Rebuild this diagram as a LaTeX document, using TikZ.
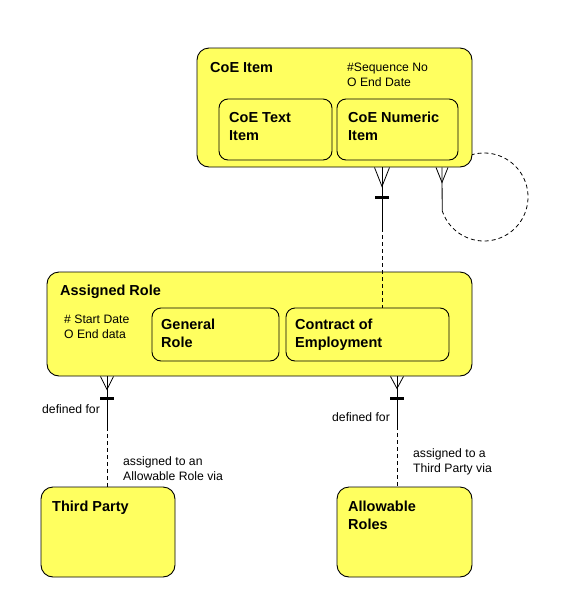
\documentclass[tikz,border=0pt]{standalone}
\usepackage{fontspec}
\setmainfont{Liberation Sans}
\usetikzlibrary{calc}
\definecolor{entyellow}{RGB}{255,255,95}
\begin{document}
\begin{tikzpicture}[x=1pt,y=-1pt,
  ent/.style={draw=black, line width=0.9pt, fill=entyellow, rounded corners=12pt, inner sep=0pt},
  sub/.style={draw=black, line width=0.9pt, fill=entyellow, rounded corners=9pt, inner sep=0pt},
  ttl/.style={anchor=base west, inner sep=0pt, font=\fontsize{14.5}{18}\selectfont\bfseries, align=left},
  att/.style={anchor=base west, inner sep=0pt, font=\fontsize{12.2}{15}\selectfont, align=left},
  rel/.style={line width=0.8pt},
  dsh/.style={line width=0.8pt, dash pattern=on 4pt off 3pt},
  barmark/.style={line width=2.6pt}]
\useasboundingbox (0,0) rectangle (565,603);

% entities
\node[ent, minimum width=275pt, minimum height=119pt] (coe) at (334.5,107.5) {};
\node[sub, minimum width=113pt, minimum height=61pt] (coetext) at (275.5,129.5) {};
\node[sub, minimum width=121pt, minimum height=61pt] (coenum) at (397.5,129.5) {};
\node[ent, minimum width=425pt, minimum height=104pt] (role) at (259.5,324) {};
\node[sub, minimum width=127pt, minimum height=53pt] (general) at (215.5,334.5) {};
\node[sub, minimum width=163pt, minimum height=53pt] (contract) at (367.5,334.5) {};
\node[ent, minimum width=134pt, minimum height=90pt] (third) at (108,532) {};
\node[ent, minimum width=135pt, minimum height=90pt] (allow) at (404.5,532) {};

% texts (multi-line texts are placed by the baseline of their last line)
\node[ttl] (t1) at (210,72) {CoE Item};
\node[att] (t2) at (347,86) {\#Sequence No\\O End Date};
\node[ttl] (t3) at (229,140) {CoE Text\\Item};
\node[ttl] (t4) at (348,140) {CoE Numeric\\Item};
\node[ttl] (t5) at (60,295) {Assigned Role};
\node[att] (t6) at (64,338) {\# Start Date\\O End data};
\node[ttl] (t7) at (161,347) {General\\Role};
\node[ttl] (t8) at (295,347) {Contract of\\Employment};
\node[ttl] (t9) at (52,511) {Third Party};
\node[ttl] (t10) at (348,529) {Allowable\\Roles};
\node[att] (l1) at (42,413) {defined for};
\node[att] (l2) at (332,421) {defined for};
\node[att] (l3) at (123,480) {assigned to an\\Allowable Role via};
\node[att] (l4) at (413,472) {assigned to a\\Third Party via};

% x positions of the connectors
\coordinate (xa) at (382,0);
\coordinate (xb) at (107,0);
\coordinate (xc) at (397,0);
\coordinate (xl) at (442,0);

% CoE Item -- Contract of Employment
\coordinate (a1) at (coe.south -| xa);
\coordinate (a2) at (contract.north -| xa);
\draw[rel] (a1) -- ++(0,61) coordinate (a3);
\draw[dsh] (a3) -- (a2);
\draw[rel] ($(a1)+(-7.5,0)$) -- ($(a1)+(0,19)$) -- ($(a1)+(7.5,0)$);
\draw[barmark] ($(a1)+(-7,30)$) -- ($(a1)+(7,30)$);

% Assigned Role -- Third Party
\coordinate (b1) at (role.south -| xb);
\coordinate (b2) at (third.north -| xb);
\draw[rel] (b1) -- ++(0,51) coordinate (b3);
\draw[dsh] (b3) -- (b2);
\draw[rel] ($(b1)+(-6.5,0)$) -- ($(b1)+(0,13)$) -- ($(b1)+(6.5,0)$);
\draw[barmark] ($(b1)+(-7,22)$) -- ($(b1)+(7,22)$);

% Assigned Role -- Allowable Roles
\coordinate (c1) at (role.south -| xc);
\coordinate (c2) at (allow.north -| xc);
\draw[rel] (c1) -- ++(0,50) coordinate (c3);
\draw[dsh] (c3) -- (c2);
\draw[rel] ($(c1)+(-6.5,0)$) -- ($(c1)+(0,12)$) -- ($(c1)+(6.5,0)$);
\draw[barmark] ($(c1)+(-7,22)$) -- ($(c1)+(7,22)$);

% CoE Item self relationship
\coordinate (d1) at (coe.south -| xl);
\coordinate (d2) at (442.2,210.6);
\draw[rel] (d1) -- (d2);
\draw[rel] ($(d1)+(-6,0)$) -- ($(d1)+(0,15)$) -- ($(d1)+(6,0)$);
\draw[dsh] plot[domain=162:-105.8, samples=80, smooth] ({484+44*cos(\x)},{197+44*sin(\x)});
\end{tikzpicture}
\end{document}
